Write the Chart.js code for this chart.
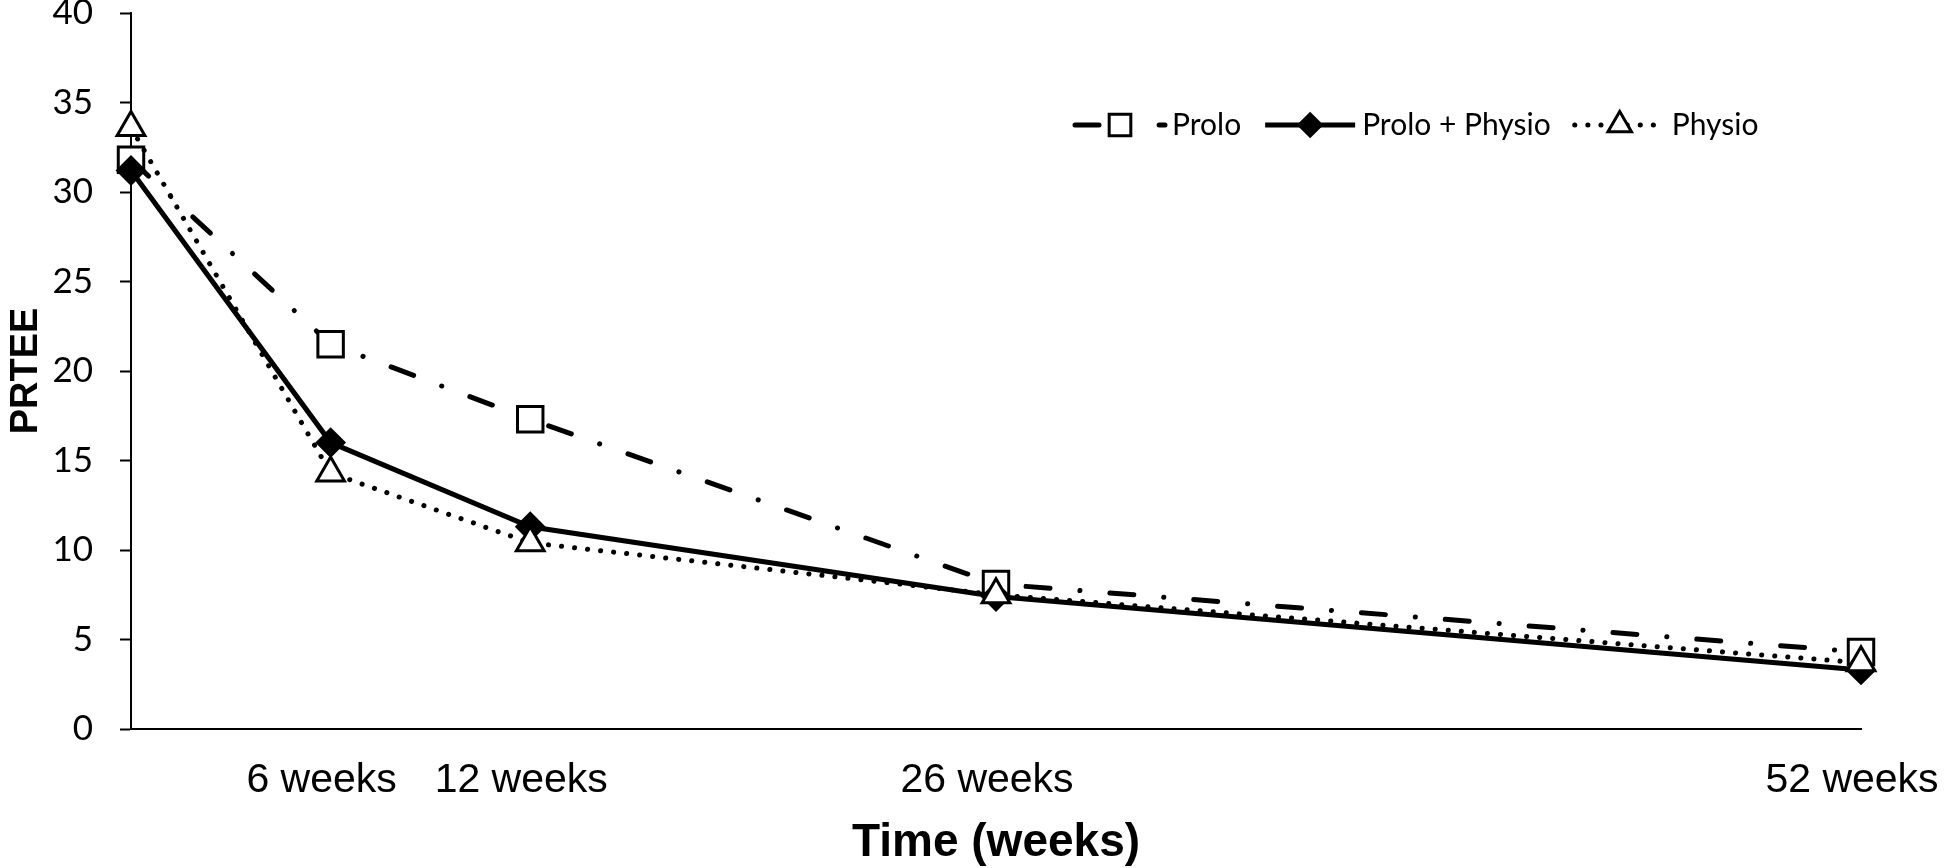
<!DOCTYPE html>
<html>
<head>
<meta charset="utf-8">
<script src="https://cdn.jsdelivr.net/npm/chart.js@4/dist/chart.umd.min.js"></script>
<style>
  html, body { margin: 0; padding: 0; background: #fff; }
  #wrap { width: 1945px; height: 868px; }
</style>
</head>
<body>
<div id="wrap"><canvas id="chart"></canvas></div>
<script>
// time points in weeks (0 = baseline)
const weeks = [0, 6, 12, 26, 52];
const tickWeeks = [6, 12, 26, 52];
const tickLabels = ['6 weeks', '12 weeks', '26 weeks', '52 weeks'];

const seriesNames = ['Prolo', 'Prolo + Physio', 'Physio'];
const prolo = [31.8, 21.5, 17.3, 8.1, 4.3];
const proloPhysio = [31.2, 16.0, 11.3, 7.4, 3.3];
const physio = [33.6, 14.3, 10.4, 7.5, 3.7];

const yTicks = [0, 5, 10, 15, 20, 25, 30, 35, 40];

const toPoints = vals => vals.map((v, i) => ({ x: weeks[i], y: v }));

// legend drawn as Excel does it: line sample with marker in the middle
const lineLegend = {
  id: 'lineLegend',
  afterDraw(chart) {
    const ctx = chart.ctx;
    const y = 125;
    const sampleLen = 90;
    let x = 1075;
    ctx.save();
    ctx.font = '30px Lato';
    ctx.textBaseline = 'middle';
    ctx.fillStyle = '#000';
    chart.data.datasets.forEach(ds => {
      ctx.save();
      ctx.strokeStyle = ds.borderColor;
      ctx.lineWidth = ds.borderWidth;
      ctx.lineCap = ds.borderCapStyle || 'butt';
      ctx.setLineDash(ds.borderDash || []);
      ctx.beginPath();
      ctx.moveTo(x, y);
      ctx.lineTo(x + sampleLen, y);
      ctx.stroke();
      ctx.setLineDash([]);
      ctx.fillStyle = ds.pointBackgroundColor;
      ctx.strokeStyle = ds.pointBorderColor;
      ctx.lineWidth = ds.pointBorderWidth;
      Chart.helpers.drawPoint(ctx, {
        pointStyle: ds.pointStyle,
        radius: ds.pointRadius * 0.85,
        rotation: 0,
        borderWidth: ds.pointBorderWidth
      }, x + sampleLen / 2, y);
      ctx.restore();
      const tx = x + sampleLen + 7;
      ctx.fillText(ds.label, tx, y);
      x = tx + ctx.measureText(ds.label).width + 24;
    });
    ctx.restore();
  }
};

new Chart(document.getElementById('chart'), {
  type: 'line',
  data: {
    datasets: [
      {
        label: seriesNames[0],
        data: toPoints(prolo),
        borderColor: '#000',
        borderWidth: 5,
        borderDash: [24, 30, 0.1, 30],
        borderCapStyle: 'round',
        pointStyle: 'rect',
        pointRadius: 18,
        pointBorderWidth: 3,
        pointBackgroundColor: '#fff',
        pointBorderColor: '#000',
        clip: false,
        order: 3
      },
      {
        label: seriesNames[1],
        data: toPoints(proloPhysio),
        borderColor: '#000',
        borderWidth: 5,
        borderCapStyle: 'butt',
        pointStyle: 'rectRot',
        pointRadius: 14,
        pointBorderWidth: 2,
        pointBackgroundColor: '#000',
        pointBorderColor: '#000',
        clip: false,
        order: 2
      },
      {
        label: seriesNames[2],
        data: toPoints(physio),
        borderColor: '#000',
        borderWidth: 5,
        borderDash: [0.1, 13],
        borderCapStyle: 'round',
        pointStyle: 'triangle',
        pointRadius: 16,
        pointBorderWidth: 3,
        pointBackgroundColor: '#fff',
        pointBorderColor: '#000',
        clip: false,
        order: 1
      }
    ]
  },
  options: {
    responsive: true,
    maintainAspectRatio: false,
    animation: false,
    layout: { autoPadding: false, padding: { left: 0, right: 84, top: 13, bottom: 0 } },
    plugins: {
      legend: { display: false },
      tooltip: { enabled: false }
    },
    elements: { line: { tension: 0 } },
    scales: {
      x: {
        type: 'linear',
        min: 0,
        max: 52,
        afterBuildTicks: scale => {
          scale.ticks = tickWeeks.map(v => ({ value: v }));
        },
        afterFit: scale => {
          scale.height = 139;
          scale.paddingLeft = 0;
          scale.paddingRight = 0;
        },
        grid: { display: true, drawOnChartArea: false, drawTicks: false },
        border: { display: true, color: '#000', width: 2 },
        ticks: {
          color: '#000',
          padding: 27,
          labelOffset: -9,
          maxRotation: 0,
          autoSkip: false,
          font: { family: 'Liberation Sans', size: 41 },
          callback: value => tickLabels[tickWeeks.indexOf(value)]
        },
        title: {
          display: true,
          text: 'Time (weeks)',
          color: '#000',
          font: { family: 'Liberation Sans', size: 46, weight: 'bold', lineHeight: 1 },
          padding: { top: 0, bottom: 2 }
        }
      },
      y: {
        min: 0,
        max: 40,
        afterBuildTicks: scale => {
          scale.ticks = yTicks.map(v => ({ value: v }));
        },
        afterFit: scale => {
          scale.width = 131;
          scale.paddingTop = 0;
          scale.paddingBottom = 0;
        },
        grid: {
          drawOnChartArea: false,
          drawTicks: true,
          tickLength: 11,
          tickColor: '#000',
          tickWidth: 2
        },
        border: { display: true, color: '#000', width: 2 },
        ticks: {
          color: '#000',
          padding: 27,
          font: { family: 'Lato', size: 35 }
        },
        title: {
          display: true,
          text: 'PRTEE',
          color: '#000',
          font: { family: 'Liberation Sans', size: 38, weight: 'bold', lineHeight: 1 },
          padding: { top: 8, bottom: 0 }
        }
      }
    }
  },
  plugins: [lineLegend]
});
</script>
</body>
</html>
